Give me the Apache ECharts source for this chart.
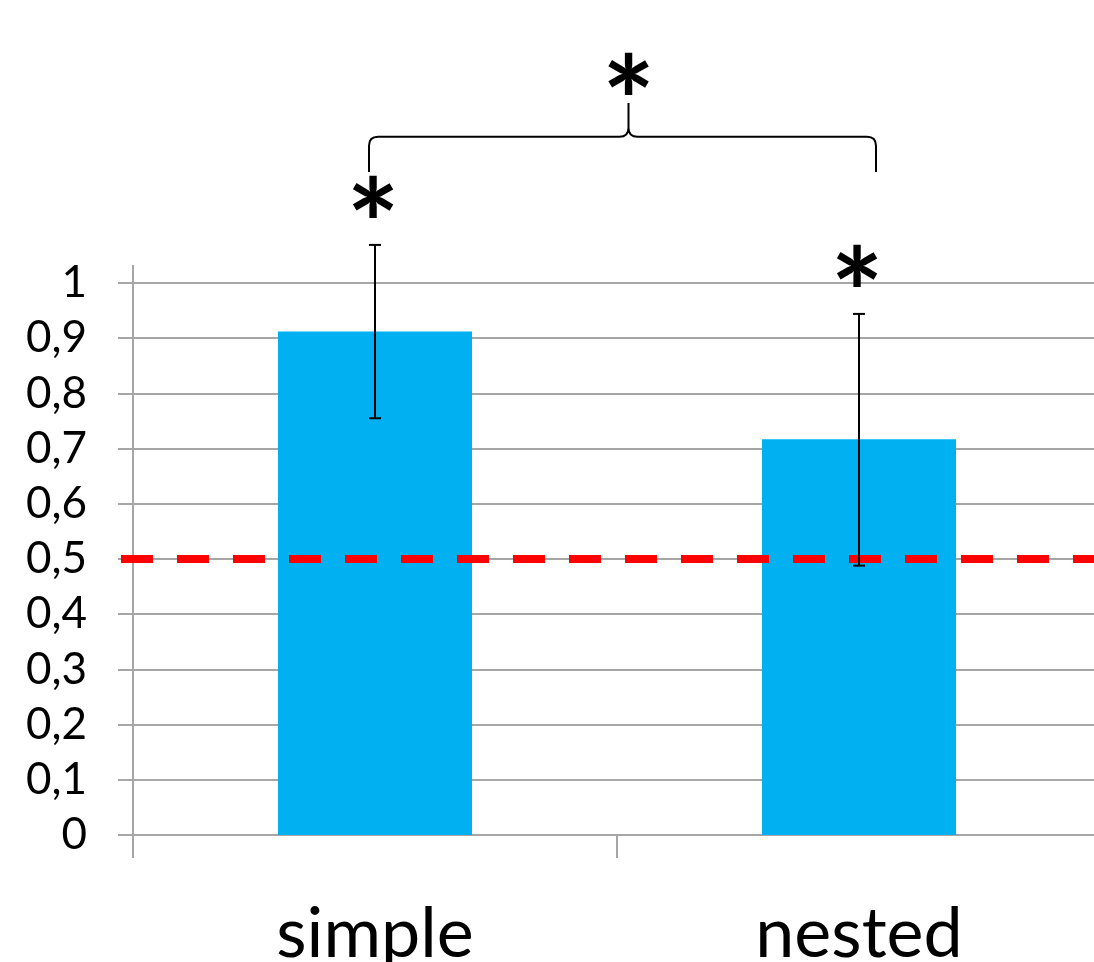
<!DOCTYPE html>
<html>
<head>
<meta charset="utf-8">
<script src="https://cdn.jsdelivr.net/npm/echarts@6/dist/echarts.min.js"></script>
<style>
  html, body { margin: 0; padding: 0; background: #fff; }
  #chart { width: 1094px; height: 962px; }
</style>
</head>
<body>
<div id="chart"></div>
<script>
const categories = ["simple", "nested"];
const means = [0.912, 0.717];
const errLow = [0.755, 0.488];
const errHigh = [1.069, 0.944];
const chanceLevel = 0.5;
const yTickLabels = ["0", "0,1", "0,2", "0,3", "0,4", "0,5", "0,6", "0,7", "0,8", "0,9", "1"];
const starMarks = ["*", "*"];
// comparison brace: ends, horizontal bar, tip
const braceLevels = [1.201, 1.265, 1.326];

const gray = "#a6a6a6";
const font = "Lato, 'Open Sans', sans-serif";

const chart = echarts.init(document.getElementById("chart"));

function star(x, y) {
  return {
    type: "text",
    x,
    y,
    style: {
      text: "*",
      fontFamily: font,
      fontWeight: "bold",
      fontSize: 125,
      fill: "#000",
      align: "center",
      verticalAlign: "bottom",
    },
  };
}

chart.setOption({
  animation: false,
  grid: { left: 133, top: 283, width: 968, height: 552, outerBoundsMode: "none" },
  xAxis: {
    type: "category",
    data: categories,
    boundaryGap: true,
    axisLine: { lineStyle: { color: gray, width: 2 } },
    axisTick: { show: true, length: 23, lineStyle: { color: gray, width: 2 } },
    axisLabel: { color: "#000", fontFamily: font, fontSize: 70, margin: 64 },
  },
  yAxis: {
    type: "value",
    min: 0,
    max: 1,
    interval: 0.1,
    axisLine: { show: true, lineStyle: { color: gray, width: 2 } },
    axisTick: { show: true, length: 15, lineStyle: { color: gray, width: 2 } },
    splitLine: { lineStyle: { color: gray, width: 2 } },
    axisLabel: {
      color: "#000",
      fontFamily: font,
      fontSize: 44,
      margin: 46,
      formatter: (v, i) => yTickLabels[i],
    },
  },
  series: [
    {
      type: "bar",
      data: means,
      barWidth: 194,
      itemStyle: { color: "#00b0f0" },
    },
    {
      // chance level line + axis line stub above 1
      type: "custom",
      data: [[chanceLevel]],
      z: 4,
      renderItem(params, api) {
        const cs = params.coordSys;
        const y = api.coord([0, api.value(0)])[1];
        return {
          type: "group",
          children: [
            { type: "line", shape: { x1: cs.x, y1: cs.y - 18, x2: cs.x, y2: cs.y }, style: { stroke: gray, lineWidth: 2 } },
            {
              type: "line",
              shape: { x1: cs.x - 12, y1: y, x2: cs.x + cs.width, y2: y },
              style: { stroke: "#ff0000", lineWidth: 8, lineDash: [32, 24] },
            },
          ],
        };
      },
    },
    {
      type: "custom",
      data: categories.map((c, i) => [i, errLow[i], errHigh[i]]),
      z: 5,
      renderItem(params, api) {
        const lo = api.coord([api.value(0), api.value(1)]);
        const hi = api.coord([api.value(0), api.value(2)]);
        const x = lo[0];
        const cap = 6;
        const s = star(x - 2, hi[1] + 47);
        s.style.text = starMarks[params.dataIndex];
        return {
          type: "group",
          children: [
            { type: "line", shape: { x1: x, y1: lo[1], x2: x, y2: hi[1] }, style: { stroke: "#000", lineWidth: 2 } },
            { type: "line", shape: { x1: x - cap, y1: lo[1], x2: x + cap, y2: lo[1] }, style: { stroke: "#000", lineWidth: 2 } },
            { type: "line", shape: { x1: x - cap, y1: hi[1], x2: x + cap, y2: hi[1] }, style: { stroke: "#000", lineWidth: 2 } },
            s,
          ],
        };
      },
    },
    {
      type: "custom",
      data: [[0, 1]],
      z: 5,
      renderItem(params, api) {
        const a = api.coord([api.value(0), braceLevels[0]]);
        const b = api.coord([api.value(1), braceLevels[0]]);
        const h = api.coord([0, braceLevels[1]])[1];
        const tip = api.coord([0, braceLevels[2]])[1];
        const left = a[0] - 6;
        const right = b[0] + 17;
        const bottom = a[1];
        const cx = (left + right) / 2 + 6;
        const r = 9;
        const path =
          `M${left},${bottom} L${left},${h + r} Q${left},${h} ${left + r},${h} ` +
          `L${cx - r},${h} Q${cx},${h} ${cx},${h - r} L${cx},${tip} ` +
          `M${cx},${h - r} Q${cx},${h} ${cx + r},${h} ` +
          `L${right - r},${h} Q${right},${h} ${right},${h + r} L${right},${bottom}`;
        return {
          type: "group",
          children: [
            { type: "path", shape: { pathData: path }, style: { stroke: "#000", lineWidth: 2, fill: null } },
            star(cx, tip + 66),
          ],
        };
      },
    },
  ],
});
</script>
</body>
</html>
